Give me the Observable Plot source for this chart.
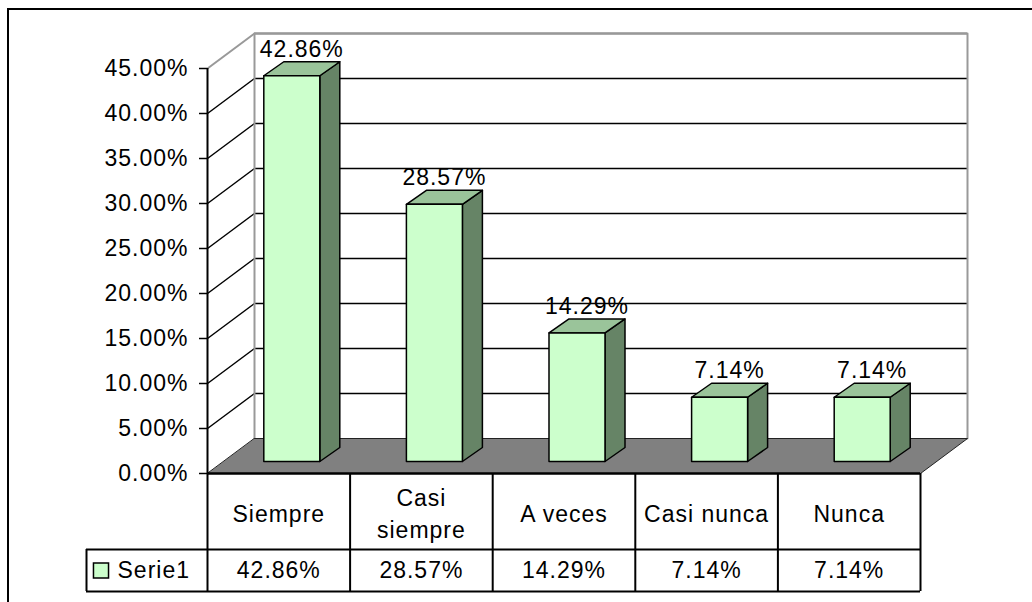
<!DOCTYPE html>
<html><head><meta charset="utf-8">
<script src="https://cdn.jsdelivr.net/npm/d3@7"></script>
<script src="https://cdn.jsdelivr.net/npm/@observablehq/plot@0.6"></script>
<style>
html,body{margin:0;padding:0;background:#fff;overflow:hidden;}
#wrap{position:relative;width:1032px;height:602px;overflow:hidden;}
#chart{position:absolute;left:0;top:0;}
#border{position:absolute;left:7px;top:8px;width:1100px;height:700px;border-top:2px solid #000;border-left:2px solid #000;pointer-events:none;}
</style></head>
<body><div id="wrap"><div id="chart"></div><div id="border"></div></div>
<script>
// ---- data ----
const categories = ["Siempre", "Casi siempre", "A veces", "Casi nunca", "Nunca"];
const values = [42.86, 28.57, 14.29, 7.14, 7.14];
const yTicks = [0, 5, 10, 15, 20, 25, 30, 35, 40, 45];
const seriesName = "Serie1";

// ---- layout (pixels -> data units) ----
const n = categories.length;
const yMax = 45;
const X0 = 207, X1 = 920, Y0 = 473, Y1 = 68;
const pxX = (X1 - X0) / n, pxY = (Y0 - Y1) / yMax;
const ux = p => p / pxX, uy = p => p / pxY;
const wallDX = ux(47), wallDY = uy(35);
const barW = ux(56), barSX = ux(13), barSY = uy(12), barDX = ux(20), barDY = uy(14);
const row1 = -uy(76), row2 = -uy(118);
const legendLeft = -ux(121), keyX = -ux(106.5), nameX = -ux(90);
const fmt = d => d.toFixed(2) + "%";

const flat = faces => faces.flatMap((f, k) => f.map(([x, y]) => ({id: k, x, y})));

const backWall = [[[wallDX, wallDY], [n + wallDX, wallDY], [n + wallDX, yMax + wallDY], [wallDX, yMax + wallDY]]];
const floor = [[[0, 0], [n, 0], [n + wallDX, wallDY], [wallDX, wallDY]]];

const fronts = [], sides = [], tops = [];
values.forEach((v, i) => {
  const xl = i + 0.5 + barSX - barW / 2, xr = xl + barW;
  const b = barSY, t = v + barSY;
  fronts.push([[xl, b], [xr, b], [xr, t], [xl, t]]);
  sides.push([[xr, b], [xr + barDX, b + barDY], [xr + barDX, t + barDY], [xr, t]]);
  tops.push([[xl, t], [xr, t], [xr + barDX, t + barDY], [xl + barDX, t + barDY]]);
});

const grid = yTicks.filter(v => v > 0);
const poly = (faces, fill, stroke, sw) =>
  Plot.line(flat(faces), {x: "x", y: "y", z: "id", curve: "linear-closed", fill, stroke, strokeWidth: sw});

const chart = Plot.plot({
  width: 1032, height: 602,
  marginLeft: X0, marginRight: 1032 - X1, marginTop: Y1, marginBottom: 602 - Y0,
  style: {fontFamily: "'Liberation Sans', Arial, sans-serif", fontSize: "23px", letterSpacing: "1px", color: "#000", background: "transparent"},
  x: {domain: [0, n], axis: null},
  y: {domain: [0, yMax], label: null},
  marks: [
    poly(backWall, "#fff", "none", 0),
    Plot.ruleY(grid, {x1: wallDX, x2: n + wallDX, y: v => v + wallDY, stroke: "#000", strokeWidth: 1.5}),
    Plot.link(grid.filter(v => v < yMax), {x1: 0, y1: v => v, x2: wallDX, y2: v => v + wallDY, stroke: "#000", strokeWidth: 1.5}),
    Plot.link([yMax], {x1: 0, y1: v => v, x2: wallDX, y2: v => v + wallDY, stroke: "#999", strokeWidth: 2}),
    Plot.line([[wallDX, wallDY], [wallDX, yMax + wallDY], [n + wallDX, yMax + wallDY], [n + wallDX, wallDY]], {stroke: "#999", strokeWidth: 2}),
    poly(floor, "#808080", "#222", 1),
    poly(sides, "#668466", "#000", 1.5),
    poly(tops, "#9AC49A", "#000", 1.5),
    poly(fronts, "#CCFFCC", "#000", 1.5),
    // axis
    Plot.ruleX([0], {y1: row2, y2: yMax, stroke: "#000", strokeWidth: 2}),
    Plot.axisY(yTicks, {tickSize: 8, tickPadding: 11, tickFormat: fmt, strokeWidth: 1.5, label: null}),
    // table
    Plot.ruleY([0], {x1: 0, x2: n, stroke: "#000", strokeWidth: 2.5}),
    Plot.ruleY([row1, row2], {x1: legendLeft, x2: n, stroke: "#000", strokeWidth: 2}),
    Plot.ruleX(d3.range(1, n + 1), {y1: row2, y2: 0, stroke: "#000", strokeWidth: 2}),
    Plot.ruleX([legendLeft], {y1: row2, y2: row1, stroke: "#000", strokeWidth: 2}),
    Plot.text(categories, {x: (d, i) => i + 0.5, y: row1 / 2, text: d => d, lineWidth: 5.6, lineHeight: 1.4, fill: "#000"}),
    Plot.text(values, {x: (d, i) => i + 0.5, y: (row1 + row2) / 2, text: fmt, fill: "#000"}),
    Plot.dot([seriesName], {x: keyX, y: (row1 + row2) / 2, symbol: "square", r: 8.5, fill: "#CCFFCC", stroke: "#000", strokeWidth: 1.5}),
    Plot.text([seriesName], {x: nameX, y: (row1 + row2) / 2, text: d => d, textAnchor: "start", fill: "#000"}),
    // data labels
    Plot.text(values, {x: (d, i) => i + 0.5 + barSX + barDX / 2, y: d => d + barSY + barDY, text: fmt, lineAnchor: "bottom", dy: -5, fill: "#000"})
  ]
});
document.getElementById("chart").append(chart);
</script>
</body></html>
